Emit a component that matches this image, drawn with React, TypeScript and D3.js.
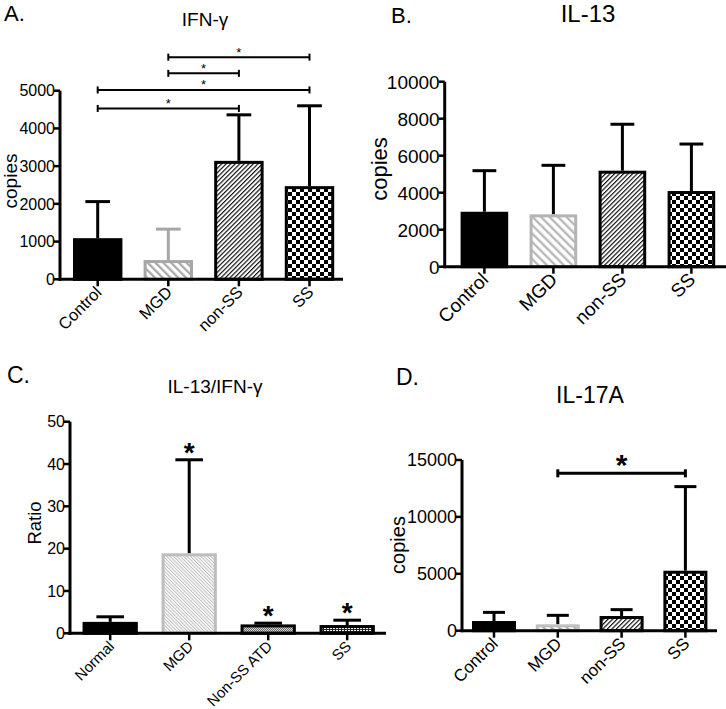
import React from "react";
import * as d3 from "d3";

// ---------- data ----------
const catsA = ["Control", "MGD", "non-SS", "SS"];
const ifngMean = [1090, 510, 3140, 2470];
const ifngErr = [2060, 1330, 4360, 4600];
const ticksA = [0, 1000, 2000, 3000, 4000, 5000];
const sigFromA = ["MGD", "MGD", "Control", "Control"];
const sigToA = ["SS", "non-SS", "SS", "non-SS"];
const sigLevelA = [5890, 5460, 5020, 4530];

const catsB = ["Control", "MGD", "non-SS", "SS"];
const il13Mean = [2970, 2830, 5190, 4090];
const il13Err = [5190, 5480, 7700, 6630];
const ticksB = [0, 2000, 4000, 6000, 8000, 10000];

const catsC = ["Normal", "MGD", "Non-SS ATD", "SS"];
const ratioMean = [2.7, 18.9, 2.1, 1.95];
const ratioErr = [3.9, 41, 2.4, 3.1];
const ticksC = [0, 10, 20, 30, 40, 50];
const starC = [false, true, true, true];

const catsD = ["Control", "MGD", "non-SS", "SS"];
const il17Mean = [850, 560, 1290, 5270];
const il17Err = [1610, 1350, 1850, 12660];
const ticksD = [0, 5000, 10000, 15000];
const sigFromD = ["MGD"];
const sigToD = ["SS"];
const sigLevelD = [13830];

const FONT = "'Liberation Sans', Arial, Helvetica, sans-serif";

type Style = { fill: string; stroke: string; err: string };

type PanelCfg = {
  cats: string[];
  mean: number[];
  err: number[];
  ticks: number[];
  max: number;
  x0: number;
  x1: number;
  yBase: number;
  yTop: number;
  range: [number, number];
  pi: number;
  tickFont: number;
  xFont: number;
  ylabel: { text: string; x: number; y: number; size: number };
  title: { text: string; x: number; y: number; size: number };
  letter: { text: string; x: number; y: number; size: number };
  styles: Style[];
  sig?: { from: string[]; to: string[]; level: number[]; starSize: number; bold: boolean; cap: number; sw: number; starGap: number };
  stars?: boolean[];
};

function Panel({ c }: { c: PanelCfg }) {
  const x = d3.scaleBand<string>().domain(c.cats).range(c.range).paddingInner(c.pi).paddingOuter(c.pi / 2);
  const y = d3.scaleLinear().domain([0, c.max]).range([c.yBase, c.yTop]);
  const bw = x.bandwidth();
  const sw = 3;
  return (
    <g fontFamily={FONT}>
      <text x={c.letter.x} y={c.letter.y} fontSize={c.letter.size}>{c.letter.text}</text>
      <text x={c.title.x} y={c.title.y} fontSize={c.title.size} textAnchor="middle">{c.title.text}</text>
      <text transform={`translate(${c.ylabel.x},${c.ylabel.y}) rotate(-90)`} fontSize={c.ylabel.size} textAnchor="middle">{c.ylabel.text}</text>
      {c.cats.map((k, i) => {
        const s = c.styles[i];
        const bx = (x(k) as number) + sw / 2;
        const top = y(c.mean[i]);
        const cx = (x(k) as number) + bw / 2;
        const capW = bw * 0.5;
        return (
          <g key={k}>
            <line x1={cx} x2={cx} y1={top} y2={y(c.err[i])} stroke={s.err} strokeWidth={3} />
            <line x1={cx - capW / 2} x2={cx + capW / 2} y1={y(c.err[i])} y2={y(c.err[i])} stroke={s.err} strokeWidth={3} />
            <rect x={bx} y={top + sw / 2} width={bw - sw} height={Math.max(0, c.yBase - top - sw / 2)} fill={s.fill} stroke={s.stroke} strokeWidth={sw} />
          </g>
        );
      })}
      <line x1={c.x0} x2={c.x0} y1={c.yBase + 1.5} y2={c.yTop} stroke="#000" strokeWidth={3} />
      <line x1={c.x0 - 1.5} x2={c.x1} y1={c.yBase} y2={c.yBase} stroke="#000" strokeWidth={3} />
      {c.ticks.map((t) => (
        <g key={t}>
          <line x1={c.x0 - 6} x2={c.x0} y1={y(t)} y2={y(t)} stroke="#000" strokeWidth={2.5} />
          <text x={c.x0 - 5} y={y(t)} dy="0.36em" fontSize={c.tickFont} textAnchor="end">{t}</text>
        </g>
      ))}
      {c.cats.map((k) => {
        const cx = (x(k) as number) + bw / 2;
        return (
          <g key={k}>
            <line x1={cx} x2={cx} y1={c.yBase} y2={c.yBase + 7} stroke="#000" strokeWidth={2.5} />
            <text transform={`translate(${cx + 5},${c.yBase + 14}) rotate(-45)`} fontSize={c.xFont} textAnchor="end">{k}</text>
          </g>
        );
      })}
      {c.sig &&
        c.sig.from.map((f, i) => {
          const sg = c.sig!;
          const xa = (x(f) as number) + bw / 2;
          const xb = (x(sg.to[i]) as number) + bw / 2;
          const yy = y(sg.level[i]);
          const h = sg.cap;
          const base = yy - sg.starGap + 0.58 * sg.starSize;
          return (
            <g key={i}>
              <line x1={xa} x2={xb} y1={yy} y2={yy} stroke="#000" strokeWidth={sg.sw} />
              <line x1={xa} x2={xa} y1={yy - h / 2} y2={yy + h / 2} stroke="#000" strokeWidth={sg.sw} />
              <line x1={xb} x2={xb} y1={yy - h / 2} y2={yy + h / 2} stroke="#000" strokeWidth={sg.sw} />
              <text x={(xa + xb) / 2} y={base} fontSize={sg.starSize} fontWeight={sg.bold ? "bold" : "normal"} textAnchor="middle">*</text>
            </g>
          );
        })}
      {c.stars &&
        c.cats.map((k, i) =>
          c.stars![i] ? (
            <text key={k} x={(x(k) as number) + bw / 2} y={y(c.err[i]) - 14 + 0.58 * 28} fontSize={28} fontWeight="bold" textAnchor="middle">*</text>
          ) : null
        )}
    </g>
  );
}

export default function App() {
  const grayA = "#a6a6a6";
  const stdStyles = (mgdGray: string, mgdErr: string, hatch: string): Style[] => [
    { fill: "#000", stroke: "#000", err: "#000" },
    { fill: `url(#${hatch})`, stroke: mgdGray, err: mgdErr },
    { fill: "url(#fine)", stroke: "#000", err: "#000" },
    { fill: "url(#checker)", stroke: "#000", err: "#000" },
  ];

  const A: PanelCfg = {
    cats: catsA, mean: ifngMean, err: ifngErr, ticks: ticksA, max: 5000,
    x0: 60, x1: 343, yBase: 279.3, yTop: 90.7, range: [62.4, 344.8], pi: 0.3,
    tickFont: 16, xFont: 16.5,
    ylabel: { text: "copies", x: 17, y: 181, size: 19 },
    title: { text: "IFN-γ", x: 205, y: 26, size: 19 },
    letter: { text: "A.", x: 4, y: 21, size: 22 },
    styles: stdStyles(grayA, grayA, "hatchA"),
    sig: { from: sigFromA, to: sigToA, level: sigLevelA, starSize: 13, bold: false, cap: 7, sw: 2, starGap: 8 },
  };
  const B: PanelCfg = {
    cats: catsB, mean: il13Mean, err: il13Err, ticks: ticksB, max: 10000,
    x0: 444.7, x1: 726, yBase: 266.7, yTop: 81.7, range: [449.9, 725.9], pi: 0.31,
    tickFont: 19, xFont: 19,
    ylabel: { text: "copies", x: 387, y: 169, size: 22 },
    title: { text: "IL-13", x: 588, y: 22, size: 24 },
    letter: { text: "B.", x: 391, y: 23, size: 22 },
    styles: stdStyles("#b4b4b4", "#000", "hatchB"),
  };
  const C: PanelCfg = {
    cats: catsC, mean: ratioMean, err: ratioErr, ticks: ticksC, max: 50,
    x0: 70, x1: 386, yBase: 633.3, yTop: 421.7, range: [70.7, 386.7], pi: 0.3,
    tickFont: 16, xFont: 15,
    ylabel: { text: "Ratio", x: 41, y: 523, size: 18.5 },
    title: { text: "IL-13/IFN-γ", x: 215, y: 393, size: 19 },
    letter: { text: "C.", x: 7, y: 383, size: 23 },
    styles: [
      { fill: "#000", stroke: "#000", err: "#000" },
      { fill: "url(#hatchC)", stroke: "#bdbdbd", err: "#000" },
      { fill: "url(#dotGray)", stroke: "#000", err: "#000" },
      { fill: "url(#dotWhite)", stroke: "#000", err: "#000" },
    ],
    stars: starC,
  };
  const D: PanelCfg = {
    cats: catsD, mean: il17Mean, err: il17Err, ticks: ticksD, max: 15000,
    x0: 462, x1: 717, yBase: 630.7, yTop: 460, range: [462.1, 717.3], pi: 0.31,
    tickFont: 18, xFont: 17,
    ylabel: { text: "copies", x: 405, y: 545, size: 20 },
    title: { text: "IL-17A", x: 590, y: 403, size: 23 },
    letter: { text: "D.", x: 396, y: 385, size: 23 },
    styles: stdStyles("#c0c0c0", "#000", "hatchA"),
    sig: { from: sigFromD, to: sigToD, level: sigLevelD, starSize: 30, bold: true, cap: 8, sw: 3, starGap: 16 },
  };

  return (
    <svg width={726} height={709} style={{ position: "absolute", left: 0, top: 0, background: "#fff" }}>
      <defs>
        <pattern id="hatchA" patternUnits="userSpaceOnUse" width={5.5} height={5.5} patternTransform="rotate(-45)">
          <rect width={5.5} height={5.5} fill="#fff" />
          <line x1={1.2} x2={1.2} y1={0} y2={5.5} stroke="#a6a6a6" strokeWidth={2.2} />
        </pattern>
        <pattern id="hatchB" patternUnits="userSpaceOnUse" width={6} height={6} patternTransform="rotate(-45)">
          <rect width={6} height={6} fill="#fff" />
          <line x1={1.2} x2={1.2} y1={0} y2={6} stroke="#b4b4b4" strokeWidth={2.2} />
        </pattern>
        <pattern id="fine" patternUnits="userSpaceOnUse" width={3.2} height={3.2} patternTransform="rotate(45)">
          <rect width={3.2} height={3.2} fill="#fff" />
          <line x1={0.6} x2={0.6} y1={0} y2={3.2} stroke="#000" strokeWidth={1.1} />
        </pattern>
        <pattern id="checker" patternUnits="userSpaceOnUse" width={8} height={8}>
          <rect width={8} height={8} fill="#fff" />
          <rect x={0} y={0} width={4} height={4} fill="#000" />
          <rect x={4} y={4} width={4} height={4} fill="#000" />
        </pattern>
        <pattern id="hatchC" patternUnits="userSpaceOnUse" width={2.4} height={2.4} patternTransform="rotate(-45)">
          <rect width={2.4} height={2.4} fill="#fff" />
          <line x1={0.5} x2={0.5} y1={0} y2={2.4} stroke="#bdbdbd" strokeWidth={1} />
        </pattern>
        <pattern id="dotGray" patternUnits="userSpaceOnUse" width={2} height={2}>
          <rect width={2} height={2} fill="#d8d8d8" />
          <rect x={0} y={0} width={1} height={1} fill="#666" />
          <rect x={1} y={1} width={1} height={1} fill="#666" />
        </pattern>
        <pattern id="dotWhite" patternUnits="userSpaceOnUse" width={3} height={2}>
          <rect width={3} height={2} fill="#222" />
          <rect x={0} y={0} width={2} height={1} fill="#fff" />
        </pattern>
      </defs>
      <Panel c={A} />
      <Panel c={B} />
      <Panel c={C} />
      <Panel c={D} />
    </svg>
  );
}
